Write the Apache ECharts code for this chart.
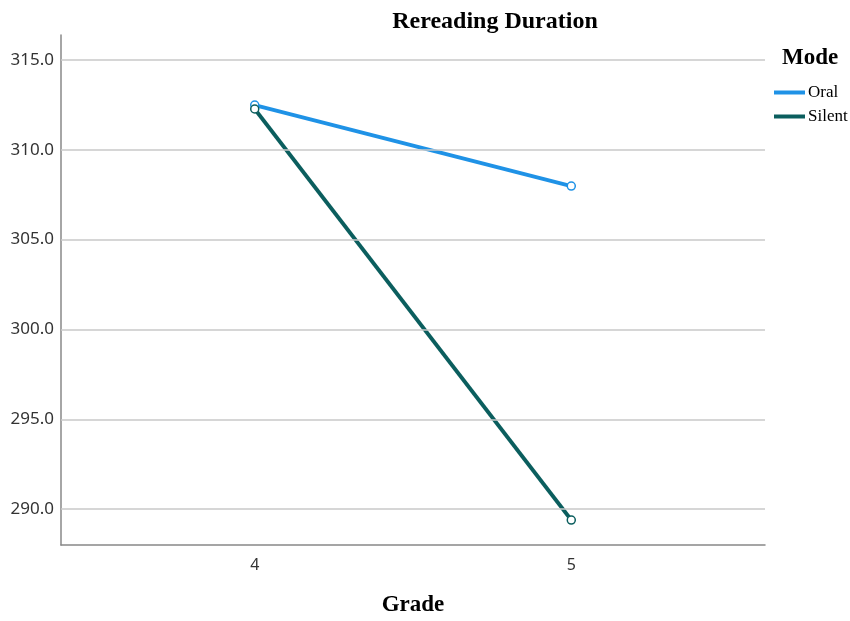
<!DOCTYPE html>
<html>
<head>
<meta charset="utf-8">
<script src="https://cdn.jsdelivr.net/npm/echarts@6/dist/echarts.min.js"></script>
<style>html,body{margin:0;padding:0;background:#fff}#c{width:850px;height:621px}</style>
</head>
<body>
<div id="c"></div>
<script>
var grades = [4, 5];
var oral = [312.49, 307.98];
var silent = [312.27, 289.39];
var yTicks = [290, 295, 300, 305, 310, 315];

var chart = echarts.init(document.getElementById('c'));
var serif = 'Liberation Serif, Times New Roman, serif';
var sans = 'Noto Sans, DejaVu Sans, sans-serif';
var cOral = '#1f92e6', cSilent = '#0b5e5e';
function pts(vals){ return grades.map(function(g,i){ return [g, vals[i]]; }); }
chart.setOption({
  animation: false,
  backgroundColor: '#fff',
  title: [
    {text: 'Rereading Duration', left: 490, top: 5, textAlign: 'center',
     textStyle: {fontFamily: serif, fontWeight: 'bold', fontSize: 24, color: '#000'}},
    {text: 'Mode', left: 777, top: 42,
     textStyle: {fontFamily: serif, fontWeight: 'bold', fontSize: 23, color: '#000'}}
  ],
  legend: {
    left: 769, top: 79, orient: 'vertical', itemGap: 7,
    icon: 'rect', itemWidth: 31, itemHeight: 4,
    textStyle: {fontFamily: serif, fontSize: 17, color: '#000', padding: [0,0,0,-2]},
    data: [
      {name: 'Oral', itemStyle: {color: cOral, borderWidth: 0}},
      {name: 'Silent', itemStyle: {color: cSilent, borderWidth: 0}}
    ]
  },
  grid: {left: 61, right: 85, top: 35, bottom: 76, containLabel: false, outerBoundsMode: 'none'},
  xAxis: {
    type: 'value', min: 3.388, max: 5.612,
    name: 'Grade', nameLocation: 'middle', nameGap: 49,
    nameTextStyle: {fontFamily: serif, fontWeight: 'bold', fontSize: 23, color: '#000'},
    axisLine: {show: true, lineStyle: {color: '#888', width: 1.5}},
    axisTick: {show: false},
    splitLine: {show: false},
    axisLabel: {customValues: grades, fontFamily: sans, fontSize: 16, color: '#333', margin: 12,
      formatter: function(v){ return String(v); }}
  },
  yAxis: {
    type: 'value', min: 288.0, max: 316.39,
    axisLine: {show: true, lineStyle: {color: '#888', width: 1.5}},
    axisTick: {show: false},
    splitLine: {show: false},
    axisLabel: {customValues: yTicks, fontFamily: sans, fontSize: 17, color: '#333', margin: 7,
      formatter: function(v){ return v.toFixed(1); }}
  },
  series: [
    {type: 'line', name: 'grid', data: yTicks.map(function(t){return [3.388, t];}), silent: true,
     lineStyle: {opacity: 0}, symbol: 'none', legendHoverLink: false,
     markLine: {silent: true, symbol: 'none', label: {show: false},
       lineStyle: {color: '#c8c8c8', width: 1.5, type: 'solid'},
       data: yTicks.map(function(t){ return {yAxis: t}; })}},
    {type: 'line', name: 'Oral', data: pts(oral), color: cOral,
     lineStyle: {width: 3.8, color: cOral}, symbol: 'circle', symbolSize: 8,
     itemStyle: {color: '#fff', borderColor: cOral, borderWidth: 1.5}},
    {type: 'line', name: 'Silent', data: pts(silent), color: cSilent,
     lineStyle: {width: 3.8, color: cSilent}, symbol: 'circle', symbolSize: 8,
     itemStyle: {color: '#fff', borderColor: cSilent, borderWidth: 1.5}}
  ]
});
</script>
</body>
</html>
